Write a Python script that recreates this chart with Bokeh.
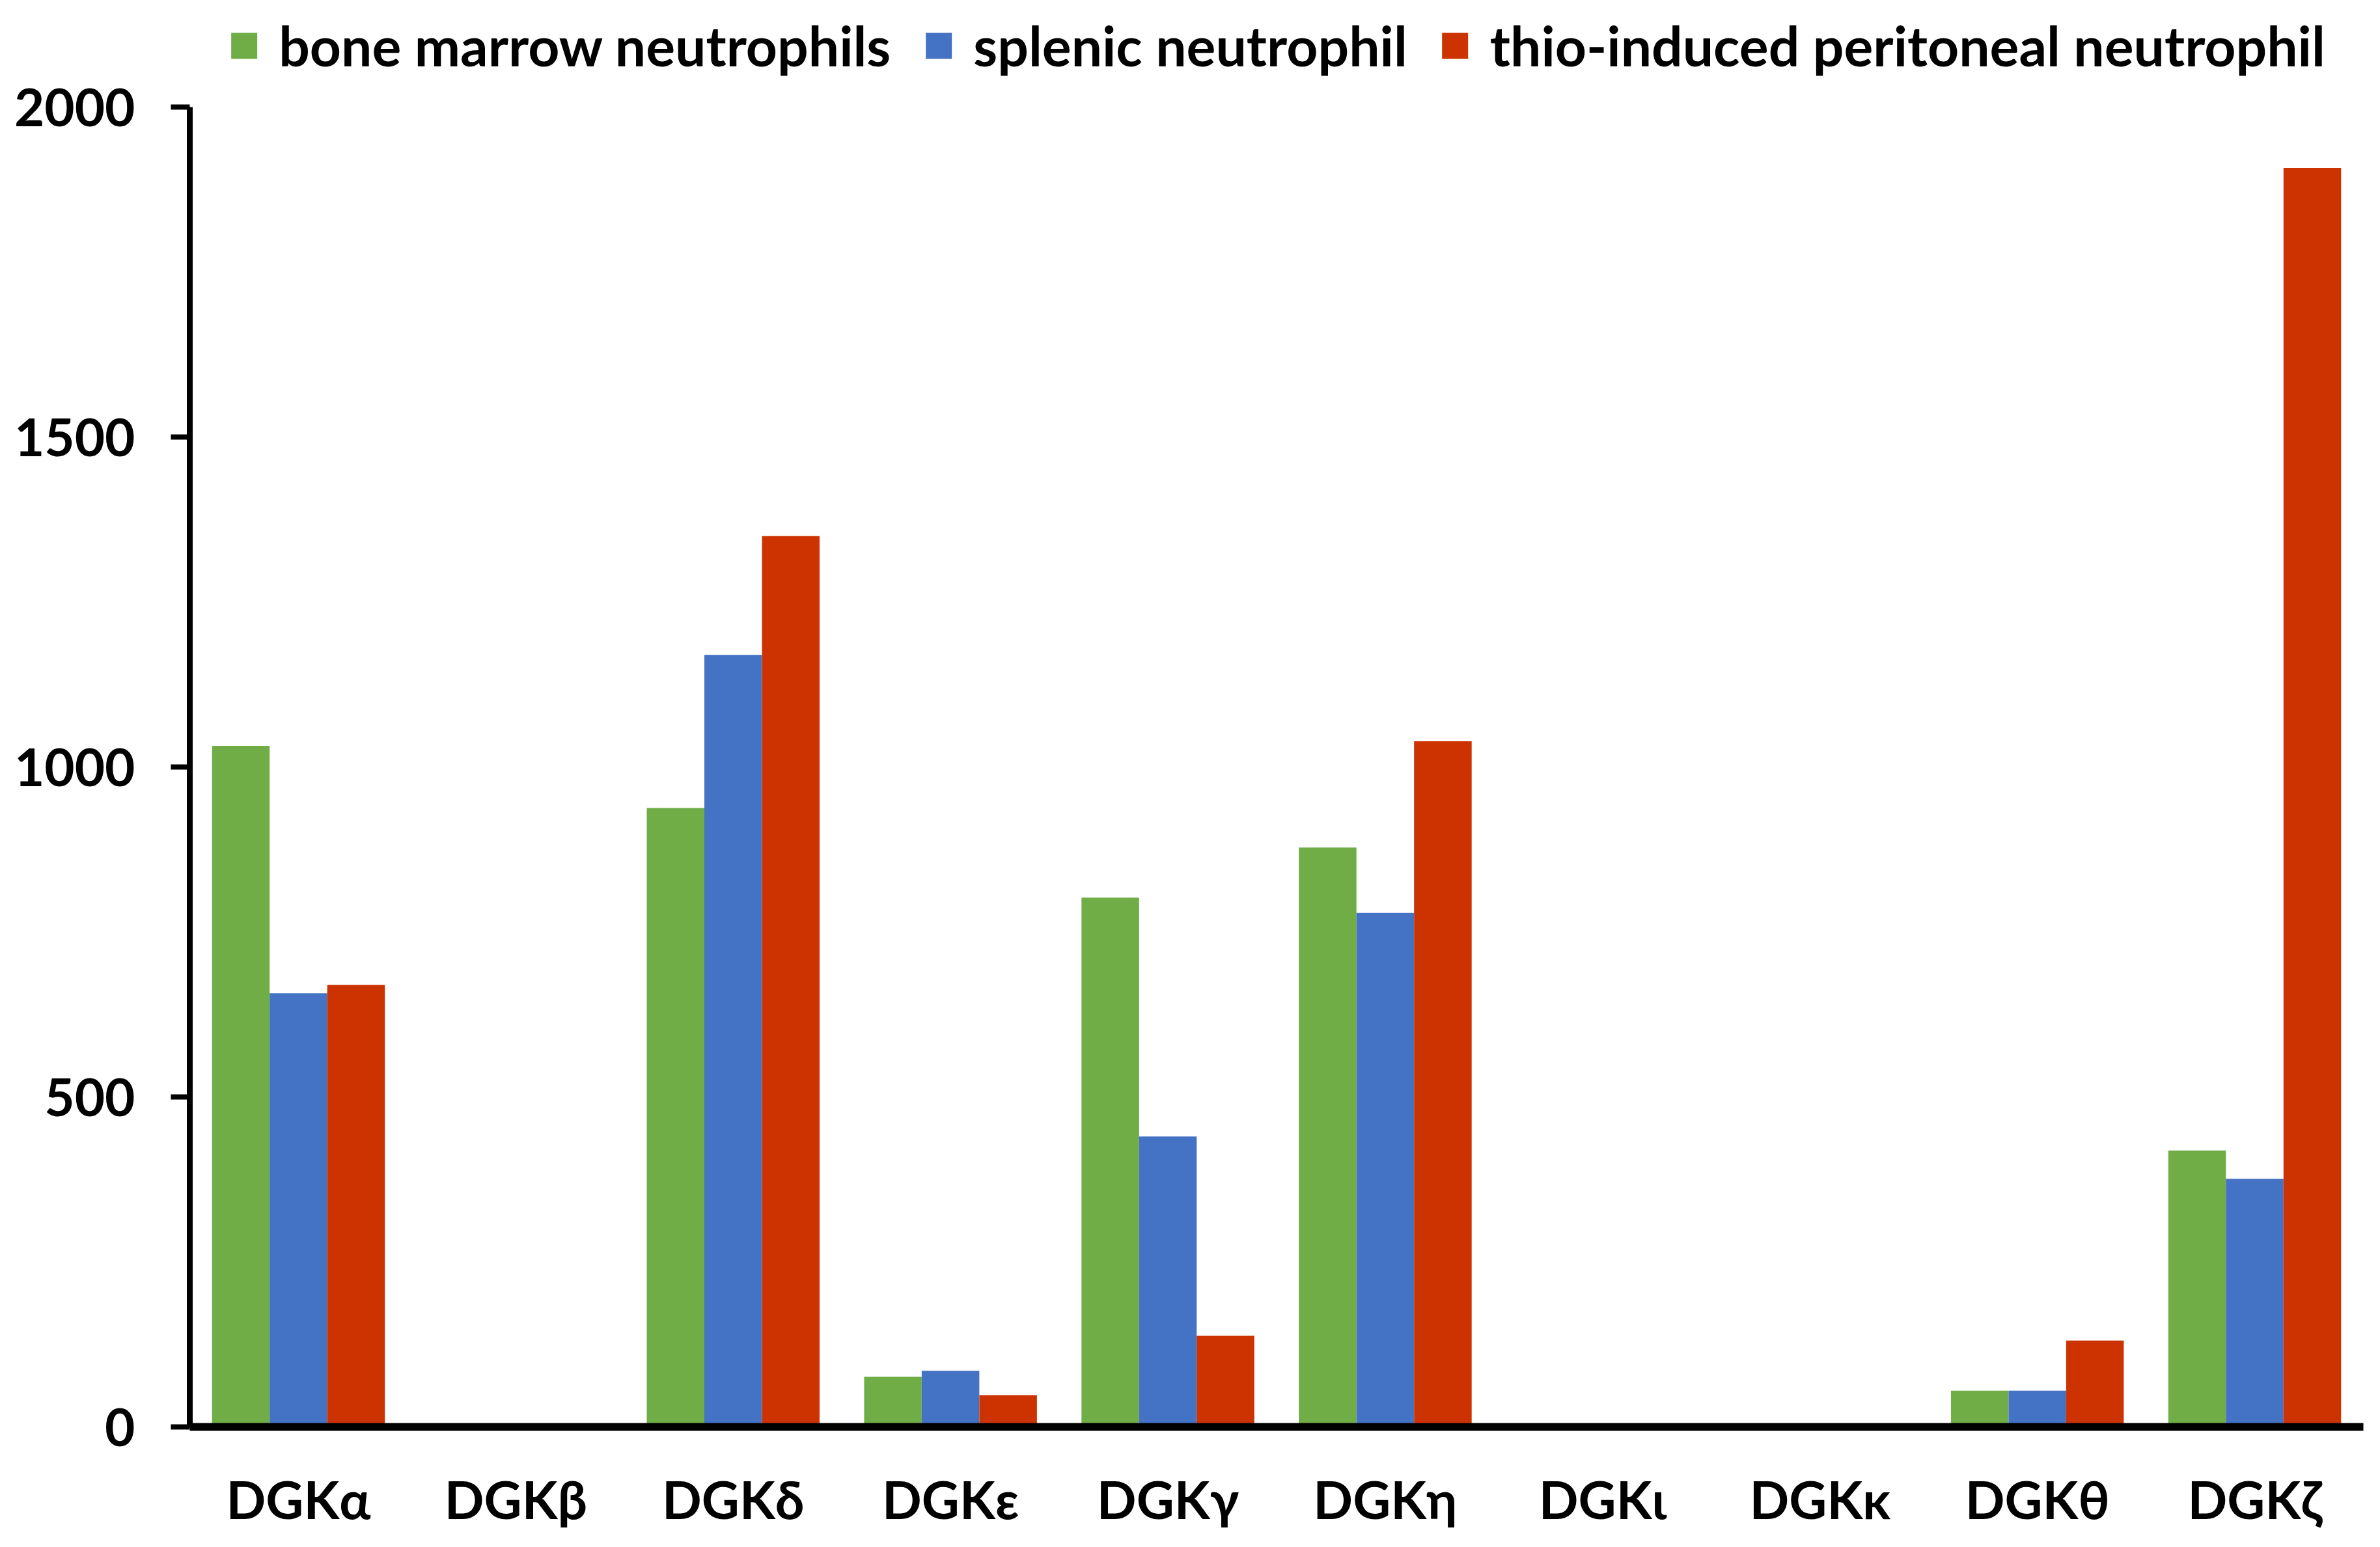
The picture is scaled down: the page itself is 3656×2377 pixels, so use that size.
from bokeh.plotting import figure
from bokeh.models import FactorRange, Range1d, FixedTicker, Legend, LegendItem
from bokeh.transform import dodge
from bokeh.embed import file_html
from bokeh.resources import INLINE
from bokeh.models import ColumnDataSource

categories = ["DGKα", "DGKβ", "DGKδ", "DGKε", "DGKγ", "DGKη", "DGKι", "DGKκ", "DGKθ", "DGKζ"]
series_names = ["bone marrow neutrophils", "splenic neutrophil", "thio-induced peritoneal neutrophil"]
bone_marrow = [1032, 0, 938, 76, 802, 878, 0, 0, 55, 419]
splenic = [657, 0, 1170, 85, 440, 779, 0, 0, 55, 376]
thio_peritoneal = [670, 0, 1350, 48, 138, 1039, 0, 0, 131, 1908]
y_ticks = [0, 500, 1000, 1500, 2000]
y_axis_max = 2000
colors = ["#70AD47", "#4472C4", "#CC3300"]

FONT = "Lato"
FS = "80px"

source = ColumnDataSource(dict(cat=categories, bm=bone_marrow, sp=splenic, th=thio_peritoneal))

# frame extends above the y axis end so the legend can sit inside it
p = figure(
    width=3640, height=2360,
    x_range=FactorRange(factors=categories, range_padding=0),
    y_range=Range1d(0, 2152),
    output_backend="svg", toolbar_location=None,
    min_border_left=291, min_border_right=10, min_border_top=10, min_border_bottom=168,
)
p.outline_line_color = None
p.xgrid.grid_line_color = None
p.ygrid.grid_line_color = None

bw = 0.265
renderers = []
for field, off, col in zip(["bm", "sp", "th"], [-bw, 0, bw], colors):
    r = p.vbar(x=dodge("cat", off, range=p.x_range), top=field, width=bw, source=source,
               fill_color=col, line_color=None)
    renderers.append(r)

# y axis
p.yaxis.ticker = FixedTicker(ticks=y_ticks)
p.yaxis.bounds = (0, y_axis_max)
p.yaxis.axis_line_width = 9
p.yaxis.axis_line_color = "black"
p.yaxis.major_tick_line_width = 8
p.yaxis.major_tick_out = 29
p.yaxis.major_tick_in = 0
p.yaxis.minor_tick_line_color = None
p.yaxis.major_label_standoff = 55
p.yaxis.major_label_text_font = FONT
p.yaxis.major_label_text_font_style = "bold"
p.yaxis.major_label_text_font_size = FS
p.yaxis.major_label_text_color = "black"

# x axis
p.xaxis.axis_line_width = 12
p.xaxis.axis_line_color = "black"
p.xaxis.major_tick_line_color = None
p.xaxis.major_tick_out = 0
p.xaxis.major_tick_in = 0
p.xaxis.minor_tick_line_color = None
p.xaxis.major_label_standoff = 62
p.xaxis.major_label_text_font = FONT
p.xaxis.major_label_text_font_style = "bold"
p.xaxis.major_label_text_font_size = FS
p.xaxis.major_label_text_color = "black"

legend = Legend(
    items=[LegendItem(label=n, renderers=[r]) for n, r in zip(series_names, renderers)],
    orientation="horizontal", location="top_center",
    label_text_font=FONT, label_text_font_style="bold", label_text_font_size="84px",
    label_text_color="black", label_height=48,
    glyph_width=50, glyph_height=50, label_standoff=29, spacing=48,
    padding=0, margin=9, border_line_color=None, background_fill_alpha=0,
)
p.add_layout(legend, "center")

open("out.html", "w").write(file_html(p, INLINE))
